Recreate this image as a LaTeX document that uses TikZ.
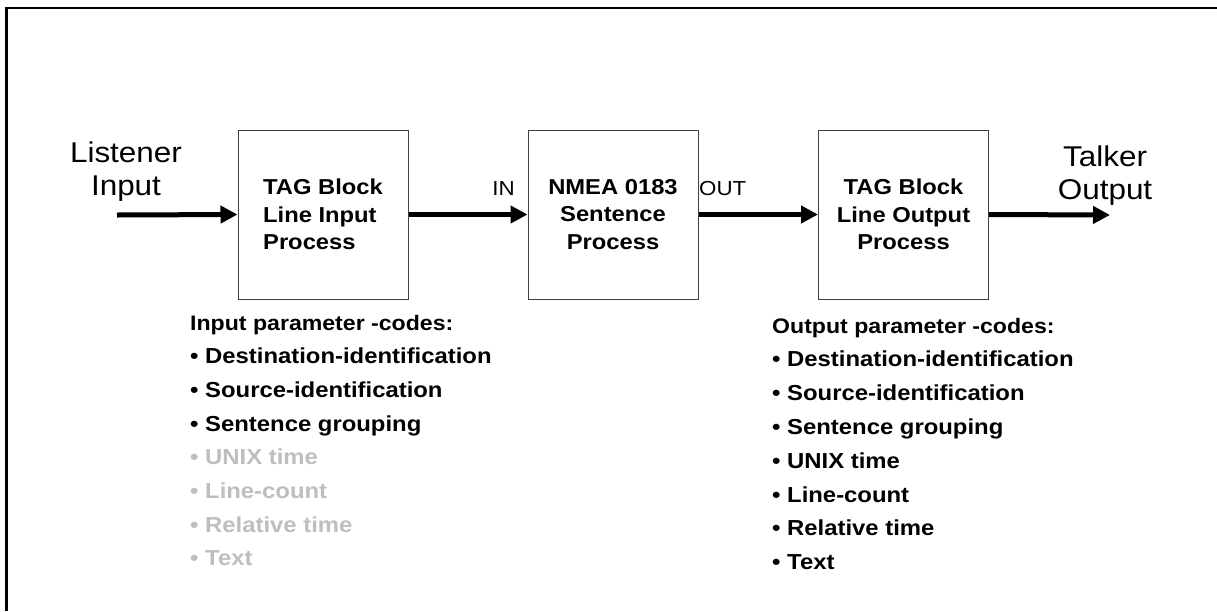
\documentclass[tikz,border=0pt]{standalone}
\usepackage{fontspec}
\setmainfont{Liberation Sans}[FakeStretch=1.1]
\usetikzlibrary{arrows.meta, positioning}
\definecolor{mGrey}{HTML}{BEBEBE}
\definecolor{mEdge}{HTML}{404040}
\tikzset{
  procbox/.style={draw=mEdge, line width=1pt, minimum width=170pt, minimum height=169pt,
    inner sep=0pt, align=center, font=\fontsize{21.6}{27.5}\selectfont\bfseries},
  flow/.style={line width=5pt, -{Triangle[length=17pt, width=17pt]}},
  endlbl/.style={inner sep=0pt, align=center, font=\fontsize{28.6}{33}\selectfont},
  portlbl/.style={inner sep=0pt, font=\fontsize{20.3}{24}\selectfont},
  codeitem/.style={inner sep=0pt, anchor=base west, font=\fontsize{21.7}{26}\selectfont\bfseries}
}
\begin{document}
\begin{tikzpicture}[x=1pt, y=-1pt]
    \useasboundingbox (0,0) rectangle (1217,611);
    % frame
    \draw[line width=2.5pt] (6.5,611) -- (6.5,8) -- (1217,8);
    % blocks
    \node[procbox, align=left] (tagin) at (323,214.5) {TAG Block\\ Line Input\\ Process};
    \node[procbox] (nmea) at (613,214.5) {NMEA 0183\\Sentence\\Process};
    \node[procbox] (tagout) at (903.5,214.5) {TAG Block\\Line Output\\Process};
    % ends
    \node[endlbl, anchor=base] (listener) at (126,195) {Listener\\Input};
    \node[endlbl, anchor=base] (talker) at (1105,199) {Talker\\Output};
    \node[portlbl, anchor=base east] (inlbl) at (515,195) {IN};
    \node[portlbl, anchor=base west] (outlbl) at (699,195) {OUT};
    \coordinate (lin) at (117,215);
    \coordinate (tout) at (1110,215);
    \draw[flow] (lin) -- (tagin.west);
    \draw[flow] (tagin.east) -- (nmea.west);
    \draw[flow] (nmea.east) -- (tagout.west);
    \draw[flow] (tagout.east) -- (tout);
    % input codes
    \node[codeitem, font=\fontsize{21}{26}\selectfont\bfseries] (inhead) at (190,330) {Input parameter -codes:};
    \foreach \lbl/\k/\fc in {Destination-identification/1/black, Source-identification/2/black,
        Sentence grouping/3/black, UNIX time/4/mGrey, Line-count/5/mGrey, Relative time/6/mGrey, Text/7/mGrey} {
      \node[codeitem, text=\fc] (incode\k) at (190,{330+33.7*\k}) {• \lbl};
    }
    % output codes
    \node[codeitem, font=\fontsize{21}{26}\selectfont\bfseries] (outhead) at (772,333) {Output parameter -codes:};
    \foreach \lbl/\k in {Destination-identification/1, Source-identification/2, Sentence grouping/3,
        UNIX time/4, Line-count/5, Relative time/6, Text/7} {
      \node[codeitem] (outcode\k) at (772,{333+33.8*\k}) {• \lbl};
    }
  \end{tikzpicture}
\end{document}
